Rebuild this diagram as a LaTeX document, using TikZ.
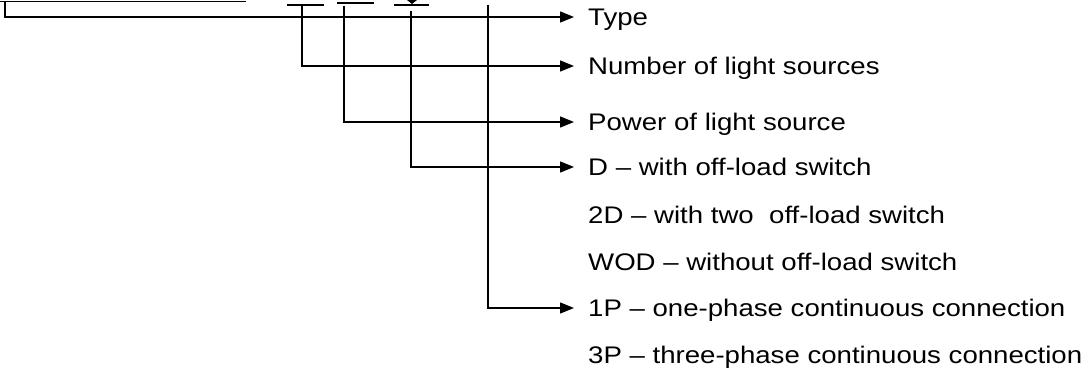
\documentclass[tikz,border=0pt]{standalone}
\usepackage{fontspec}
\setmainfont{Liberation Sans}[FakeStretch=1.15]
\usetikzlibrary{arrows.meta}
\begin{document}
\begin{tikzpicture}[x=1pt,y=1pt,
  lbl/.style={anchor=west, inner xsep=14pt, inner ysep=0pt, text height=17.2pt, text depth=0pt,
              font=\fontsize{24}{28}\selectfont},
  conn/.style={line width=1.4pt, -{Triangle[length=14pt,width=11pt]}},
  wire/.style={line width=1.8pt}]
\useasboundingbox (0,0) rectangle (1088,-371);

% cut-off underlines at the top edge
\draw[wire] (0,-1.5) -- (246,-1.5);
\draw[wire] (287,-5) -- (324,-5);
\draw[wire] (337,-3) -- (374,-3);
\draw[wire] (394,-5) -- (429,-5);
\fill (407,0) -- (417,0) -- (412,-4) -- cycle;

% labels
\node[lbl] (type) at (574,-17)  {Type};
\node[lbl] (num)  at (574,-66)  {Number of light sources};
\node[lbl] (pow)  at (574,-122) {Power of light source};
\node[lbl] (d)    at (574,-167) {D – with off-load switch};
\node[lbl] (d2)   at (574,-215) {2D – with two\ \ off-load switch};
\node[lbl] (wod)  at (574,-262) {WOD – without off-load switch};
\node[lbl] (p1)   at (574,-308) {1P – one-phase continuous connection};
\node[lbl] (p3)   at (574,-355) {3P – three-phase continuous connection};

% branch starts
\coordinate (s0) at (5,-1.5);
\coordinate (s1) at (302,-5);
\coordinate (s2) at (344,-6);
\coordinate (s3) at (411,-11);
\coordinate (s4) at (488,-5);

% connectors
\draw[conn] (s0) |- (type.west);
\draw[conn] (s1) |- (num.west);
\draw[conn] (s2) |- (pow.west);
\draw[conn] (s3) |- (d.west);
\draw[conn] (s4) |- (p1.west);
\end{tikzpicture}
\end{document}
